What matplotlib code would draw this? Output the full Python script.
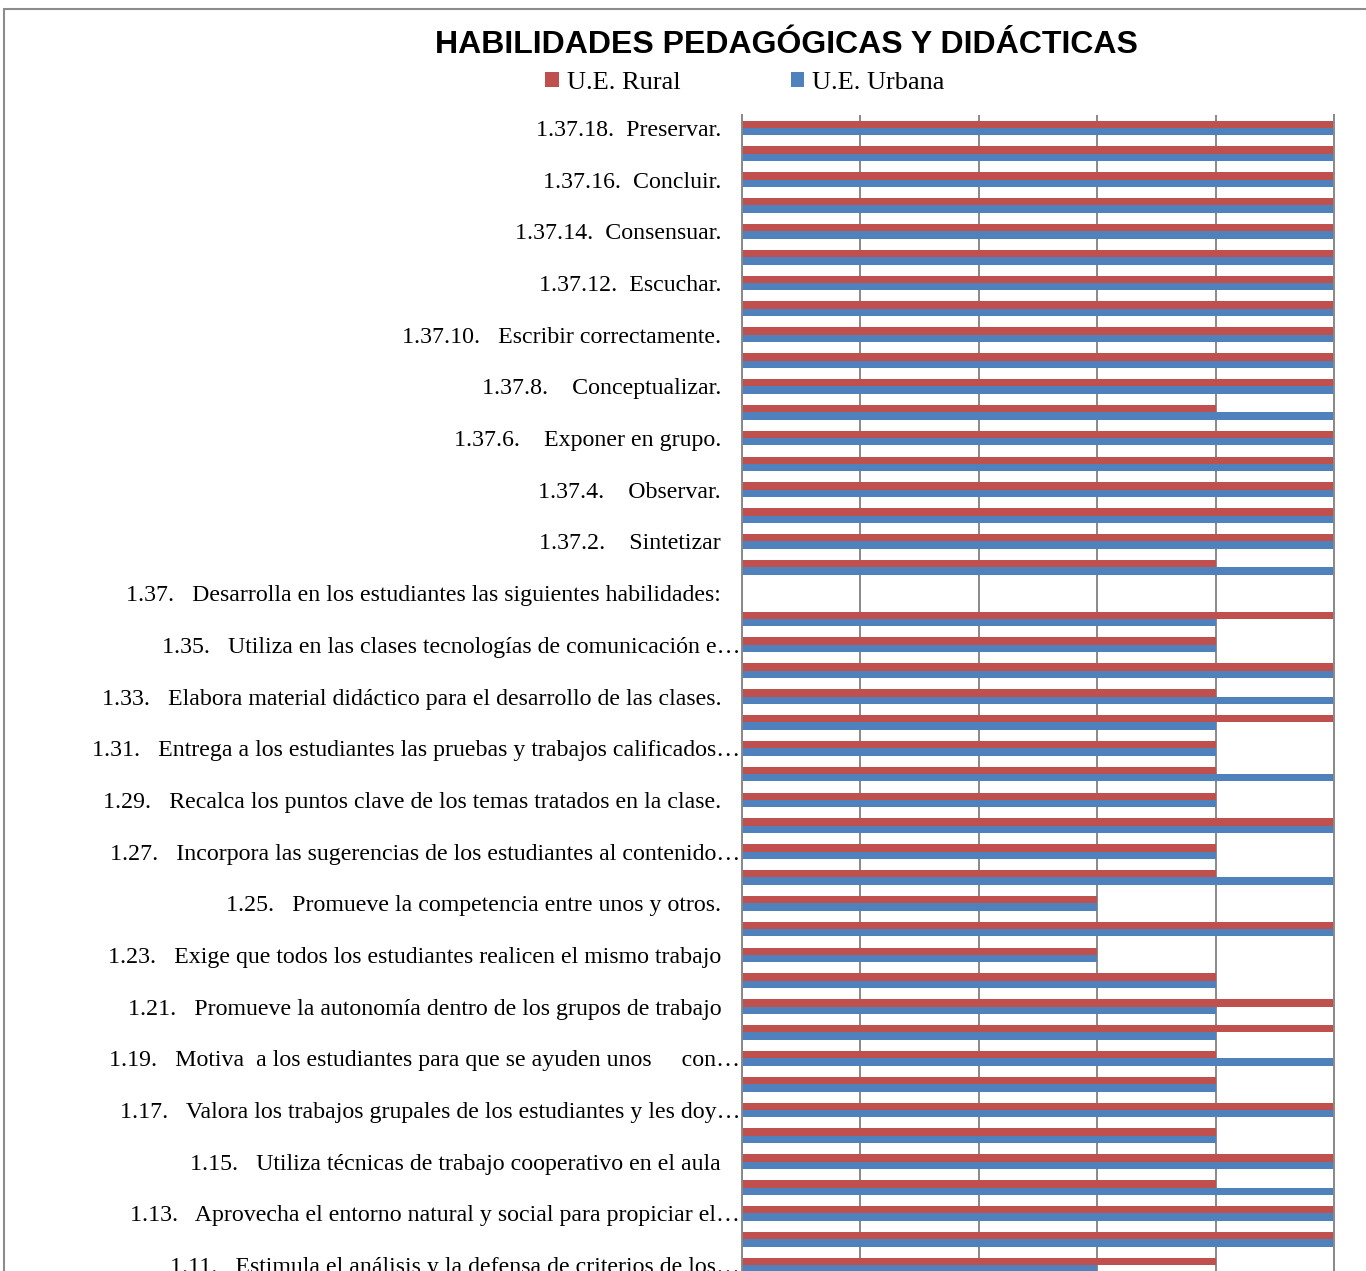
import numpy as np
import matplotlib.pyplot as plt
from matplotlib.patches import Rectangle
from matplotlib.transforms import ScaledTranslation


# ============================================================
# 1. DATA (top to bottom, as shown in the chart)
# ============================================================

CODES = [
    "1.37.18", "1.37.17", "1.37.16", "1.37.15", "1.37.14", "1.37.13",
    "1.37.12", "1.37.11", "1.37.10", "1.37.9", "1.37.8", "1.37.7",
    "1.37.6", "1.37.5", "1.37.4", "1.37.3", "1.37.2", "1.37.1",
    "1.37", "1.36", "1.35", "1.34", "1.33", "1.32", "1.31", "1.30",
    "1.29", "1.28", "1.27", "1.26", "1.25", "1.24", "1.23", "1.22",
    "1.21", "1.20", "1.19", "1.18", "1.17", "1.16", "1.15", "1.14",
    "1.13", "1.12", "1.11",
]

# only every other category label is printed in the chart
SHOWN_LABELS = [
    "1.37.18.  Preservar.",
    "1.37.16.  Concluir.",
    "1.37.14.  Consensuar.",
    "1.37.12.  Escuchar.",
    "1.37.10.   Escribir correctamente.",
    "1.37.8.    Conceptualizar.",
    "1.37.6.    Exponer en grupo.",
    "1.37.4.    Observar.",
    "1.37.2.    Sintetizar",
    "1.37.   Desarrolla en los estudiantes las siguientes habilidades:",
    "1.35.   Utiliza en las clases tecnologías de comunicación e…",
    "1.33.   Elabora material didáctico para el desarrollo de las clases.",
    "1.31.   Entrega a los estudiantes las pruebas y trabajos calificados…",
    "1.29.   Recalca los puntos clave de los temas tratados en la clase.",
    "1.27.   Incorpora las sugerencias de los estudiantes al contenido…",
    "1.25.   Promueve la competencia entre unos y otros.",
    "1.23.   Exige que todos los estudiantes realicen el mismo trabajo",
    "1.21.   Promueve la autonomía dentro de los grupos de trabajo",
    "1.19.   Motiva  a los estudiantes para que se ayuden unos     con…",
    "1.17.   Valora los trabajos grupales de los estudiantes y les doy…",
    "1.15.   Utiliza técnicas de trabajo cooperativo en el aula",
    "1.13.   Aprovecha el entorno natural y social para propiciar el…",
    "1.11.   Estimula el análisis y la defensa de criterios de los…",
]

RURAL = [
    5, 5, 5, 5, 5, 5,
    5, 5, 5, 5, 5, 4,
    5, 5, 5, 5, 5, 4,
    np.nan, 5, 4, 5, 4, 5, 4, 4,
    4, 5, 4, 4, 3, 5, 3, 4,
    5, 5, 4, 4, 5, 4, 5, 4,
    5, 5, 4,
]

URBANA = [
    5, 5, 5, 5, 5, 5,
    5, 5, 5, 5, 5, 5,
    5, 5, 5, 5, 5, 5,
    np.nan, 4, 4, 5, 5, 4, 4, 5,
    4, 5, 4, 5, 3, 5, 3, 4,
    4, 4, 5, 4, 5, 4, 5, 5,
    5, 5, 3,
]

SERIES = ["U.E. Rural", "U.E. Urbana"]
COLORS = ["#C0504D", "#4F81BD"]
GRID_COLOR = "#898989"

TITLE = "HABILIDADES PEDAGÓGICAS Y DIDÁCTICAS"


# ============================================================
# 2. FIGURE
# ============================================================

W, H = 1366, 1271

fig = plt.figure(figsize=(W / 100, H / 100), dpi=100)

# plot area runs past the bottom edge (the source picture is cropped)
ax = fig.add_axes([742 / W, 1 - 1278 / H, (1334 - 742) / W, (1278 - 115) / H])

y = np.arange(len(CODES))
bar_h = 0.285

ax.barh(y - bar_h / 2, RURAL, height=bar_h, color=COLORS[0],
        linewidth=0, label=SERIES[0], zorder=2)
ax.barh(y + bar_h / 2, URBANA, height=bar_h, color=COLORS[1],
        linewidth=0, label=SERIES[1], zorder=2)

ax.set_xlim(0, 5)
ax.set_ylim(len(CODES) - 0.5, -0.5)
ax.set_xticks(range(6))
ax.xaxis.grid(True, color=GRID_COLOR, linewidth=1.4, zorder=1)
ax.set_axisbelow(True)

ax.set_yticks(y[::2])
ax.set_yticklabels(SHOWN_LABELS, family="Liberation Serif", fontsize=17.2)
ax.tick_params(axis="y", length=0, pad=15)
ax.tick_params(axis="x", length=0, labelbottom=False)

# truncated labels run right up to the axis line
shift = ScaledTranslation(19 / 100, 0, fig.dpi_scale_trans)
for lab in ax.get_yticklabels():
    if lab.get_text().endswith("…"):
        lab.set_transform(lab.get_transform() + shift)

for side in ["top", "bottom"]:
    ax.spines[side].set_visible(False)
for side in ["left", "right"]:
    ax.spines[side].set_color(GRID_COLOR)
    ax.spines[side].set_linewidth(1.4)

fig.text(786 / W, 1 - 45 / H, TITLE, ha="center", va="center",
         family="Liberation Sans", fontweight="bold", fontsize=23)

handles, labels = ax.get_legend_handles_labels()
fig.legend(handles, labels, loc="center", bbox_to_anchor=(745 / W, 1 - 83 / H),
           ncol=2, frameon=False, prop={"family": "Liberation Serif", "size": 19},
           handlelength=0.5, handleheight=0.5, handletextpad=0.3,
           columnspacing=4.2)

# chart frame (also cropped on the right and bottom)
fig.patches.append(Rectangle((4 / W, -0.1), 1.2, 1.1 - 9 / H,
                             transform=fig.transFigure, fill=False,
                             edgecolor="#8c8c8c", linewidth=1.5))

fig.savefig("out.png", dpi=100)
